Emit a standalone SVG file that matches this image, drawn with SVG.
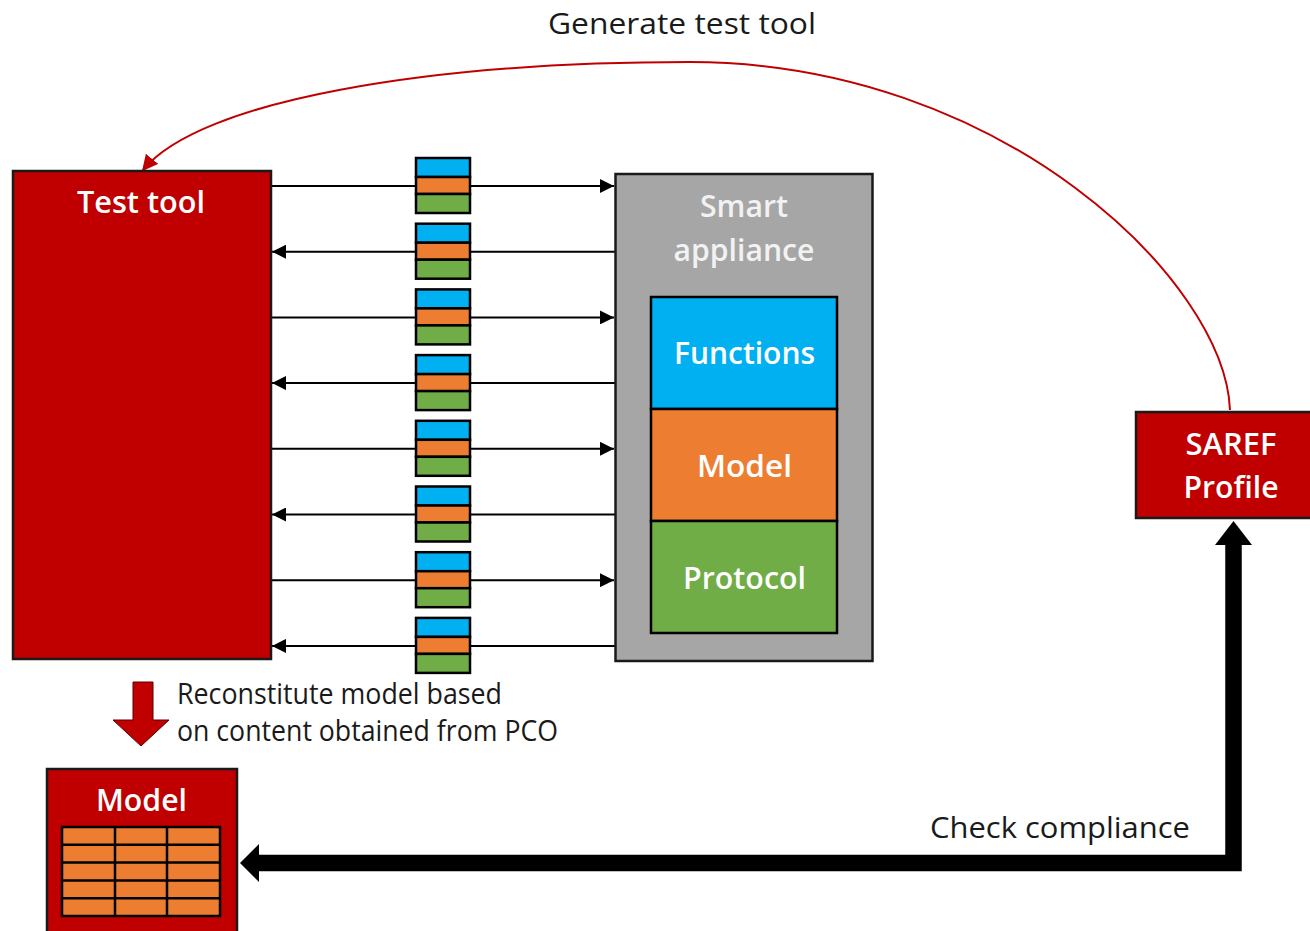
<svg xmlns="http://www.w3.org/2000/svg" width="1310" height="931" viewBox="0 0 1310 931">
<style>
text{font-family:"Open Sans","Noto Sans","Liberation Sans",sans-serif;}
.w{fill:#FFFFFF;font-size:30px;text-anchor:middle;font-weight:600;}
.lg{fill:#F2F2F2;font-size:30px;text-anchor:middle;font-weight:600;}
.k{fill:#1a1a1a;font-size:29px;}
.red{fill:#C00000;stroke:#1a1a1a;stroke-width:2.5;}
.blue{fill:#00B0F0;stroke:#000;stroke-width:2.5;}
.orange{fill:#ED7D31;stroke:#000;stroke-width:2.5;}
.green{fill:#70AD47;stroke:#000;stroke-width:2.5;}
.ln{stroke:#000;stroke-width:2;fill:none;}
</style>
<defs>
<marker id="ah" viewBox="0 0 10 10" refX="10" refY="5" markerWidth="7.5" markerHeight="7" markerUnits="strokeWidth" orient="auto">
<path d="M0,0 L10,5 L0,10 Z" fill="#000"/>
</marker>
<marker id="rah" viewBox="0 0 10 10" refX="9" refY="5" markerWidth="8" markerHeight="8" markerUnits="strokeWidth" orient="auto">
<path d="M0,0 L10,5 L0,10 Z" fill="#C00000"/>
</marker>
<g id="pkt">
<rect x="416" y="-28" width="54" height="19" class="blue"/>
<rect x="416" y="-9" width="54" height="17" class="orange"/>
<rect x="416" y="8" width="54" height="19" class="green"/>
</g>
</defs>
<rect width="1310" height="931" fill="#FFFFFF"/>

<text x="682" y="34" class="k" text-anchor="middle" textLength="268" lengthAdjust="spacingAndGlyphs">Generate test tool</text>

<g id="connectors">
<path d="M1230,410 C1225,280 1000,62 690,62 C430,62 200,100 143,170" stroke="#C00000" stroke-width="2" fill="none" marker-end="url(#rah)"/>
<line x1="272" y1="186" x2="614" y2="186" class="ln" marker-end="url(#ah)"/>
<line x1="615" y1="251.7" x2="272" y2="251.7" class="ln" marker-end="url(#ah)"/>
<line x1="272" y1="317.4" x2="614" y2="317.4" class="ln" marker-end="url(#ah)"/>
<line x1="615" y1="383.1" x2="272" y2="383.1" class="ln" marker-end="url(#ah)"/>
<line x1="272" y1="448.8" x2="614" y2="448.8" class="ln" marker-end="url(#ah)"/>
<line x1="615" y1="514.5" x2="272" y2="514.5" class="ln" marker-end="url(#ah)"/>
<line x1="272" y1="580.2" x2="614" y2="580.2" class="ln" marker-end="url(#ah)"/>
<line x1="615" y1="645.9" x2="272" y2="645.9" class="ln" marker-end="url(#ah)"/>
<path d="M1233.5,543 V863 H255" stroke="#000" stroke-width="16.5" fill="none" stroke-linejoin="miter"/>
<polygon points="1233.5,521 1252,545 1215,545" fill="#000"/>
<polygon points="240,863 259,844 259,882" fill="#000"/>
<polygon points="133,682 153,682 153,720 169,720 141,746 113,720 133,720" fill="#C00000" stroke="#5a0000" stroke-width="1"/>
</g>

<g id="packets">
<use href="#pkt" y="186"/>
<use href="#pkt" y="251.7"/>
<use href="#pkt" y="317.4"/>
<use href="#pkt" y="383.1"/>
<use href="#pkt" y="448.8"/>
<use href="#pkt" y="514.5"/>
<use href="#pkt" y="580.2"/>
<use href="#pkt" y="645.9"/>
</g>

<g id="test-tool">
<rect x="13" y="171" width="258" height="488" class="red"/>
<text x="141" y="213" class="w" textLength="128" lengthAdjust="spacingAndGlyphs">Test tool</text>
</g>

<g id="smart-appliance">
<rect x="615.5" y="174" width="257" height="487" fill="#A6A6A6" stroke="#1a1a1a" stroke-width="2.5"/>
<text x="744" y="217" class="lg" textLength="88" lengthAdjust="spacingAndGlyphs">Smart</text>
<text x="744" y="261" class="lg" textLength="141" lengthAdjust="spacingAndGlyphs">appliance</text>
</g>
<g id="functions">
<rect x="651" y="297" width="186" height="112" class="blue" stroke-width="3"/>
<text x="744.5" y="364" class="w" textLength="141" lengthAdjust="spacingAndGlyphs">Functions</text>
</g>
<g id="model-layer">
<rect x="651" y="409" width="186" height="112" class="orange" stroke-width="3"/>
<text x="744.5" y="477" class="w" textLength="95" lengthAdjust="spacingAndGlyphs">Model</text>
</g>
<g id="protocol">
<rect x="651" y="521" width="186" height="112" class="green" stroke-width="3"/>
<text x="744.5" y="589" class="w" textLength="123" lengthAdjust="spacingAndGlyphs">Protocol</text>
</g>

<g id="saref-profile">
<rect x="1136" y="412" width="180" height="106" class="red"/>
<text x="1231" y="455" class="w" textLength="91" lengthAdjust="spacingAndGlyphs">SAREF</text>
<text x="1231" y="498" class="w" textLength="95" lengthAdjust="spacingAndGlyphs">Profile</text>
</g>

<g id="model">
<rect x="47" y="769" width="190" height="175" class="red"/>
<text x="141.5" y="811" class="w" textLength="91" lengthAdjust="spacingAndGlyphs">Model</text>
<rect x="62" y="827" width="158" height="89" fill="#ED7D31" stroke="#000" stroke-width="2.5"/>
<path d="M115,827 V916 M167,827 V916 M62,844.8 H220 M62,862.6 H220 M62,880.4 H220 M62,898.2 H220" stroke="#000" stroke-width="2.5" fill="none"/>
</g>

<text x="177" y="704" class="k" textLength="325" lengthAdjust="spacingAndGlyphs">Reconstitute model based</text>
<text x="177" y="741" class="k" textLength="381" lengthAdjust="spacingAndGlyphs">on content obtained from PCO</text>
<text x="930" y="838" class="k" textLength="260" lengthAdjust="spacingAndGlyphs">Check compliance</text>
</svg>
